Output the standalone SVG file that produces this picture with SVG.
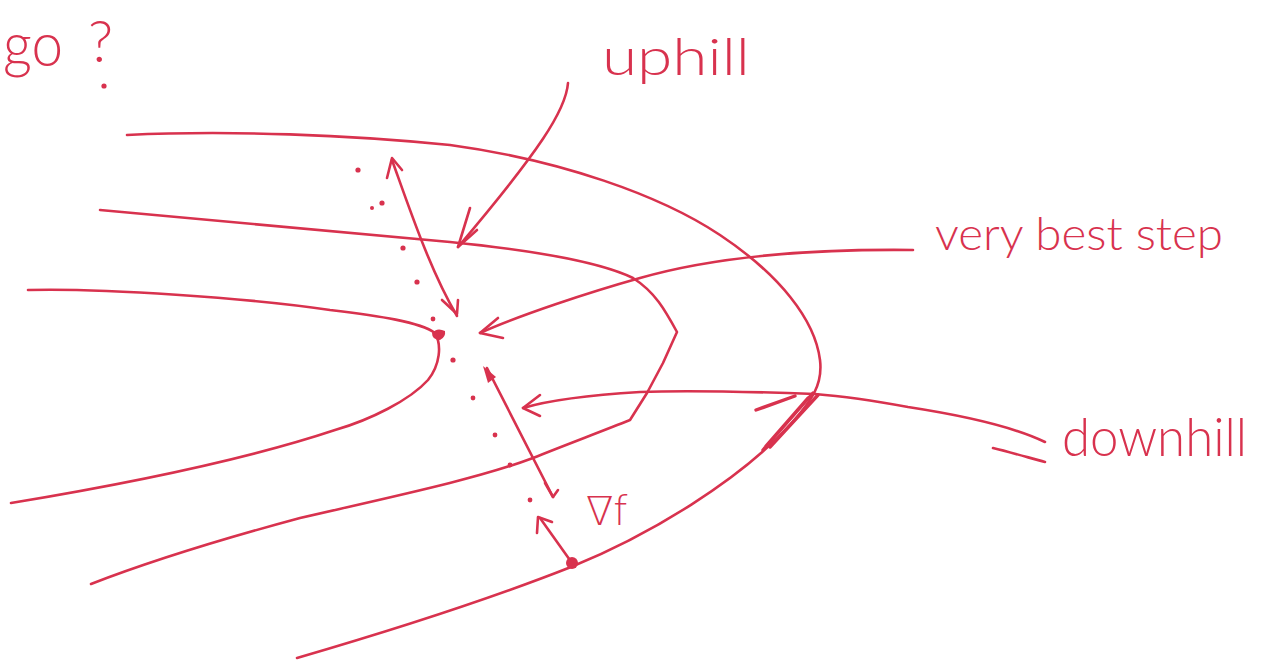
<svg xmlns="http://www.w3.org/2000/svg" width="1267" height="667" viewBox="0 0 1267 667">
<style>
.ink{fill:none;stroke:#d8324e;stroke-width:2.6;stroke-linecap:round;stroke-linejoin:round}
.thick{fill:none;stroke:#d8324e;stroke-width:3.4;stroke-linecap:round;stroke-linejoin:round}
.dot{fill:#d8324e}
.lbl{fill:#d8324e;font-family:"Lato","Open Sans","Liberation Sans",sans-serif;font-weight:300}
.sym{fill:#d8324e;font-family:"DejaVu Sans","Liberation Sans",sans-serif;font-weight:200}
</style>
<rect width="1267" height="667" fill="#ffffff"/>
<g id="contours">
<path id="contour-inner" class="ink" d="M28,290 C100,288 250,298 330,310 C380,316 420,322 435,333 C442,345 440,365 428,380 C410,400 370,420 335,430 C260,455 150,480 11,503"/>
<path id="contour-middle" class="ink" d="M100,210 C180,218 300,228 450,242 C530,250 600,262 633,278 C655,292 665,310 677,332 L663,363 L647,393 L630,420 C600,432 560,447 533,458 C480,478 400,495 300,518 C200,545 140,565 91,584"/>
<path id="contour-outer" class="ink" d="M127,135 C230,130 350,135 450,145 C560,160 660,195 720,235 C780,275 815,320 820,360 C823,385 812,400 790,425 C740,480 650,535 571,567 C500,595 400,628 297,658"/>
<path class="thick" d="M813,393 L763,450 M818,395 L770,447 M808,398 L766,446 M756,410 L795,396"/>
</g>
<g id="steps">
<path class="dot" d="M432,333 Q437,327 445,331 Q446,337 440,340 Q432,340 432,333 Z"/>
<g id="step-uphill">
<path class="ink" d="M392,160 C410,210 430,270 457,316"/>
<path class="ink" d="M387,178 L392,158 L402,170"/>
<path class="ink" d="M442,300 L457,314 L458,300"/>
</g>
<g id="step-down">
<path class="ink" d="M487,368 L553,497"/>
<path class="dot" d="M483,366 L496,377 L488,383 Z"/>
<path class="ink" d="M545,483 L553,497 L558,490"/>
</g>
<g id="step-grad">
<path class="ink" d="M572,563 L540,518"/>
<path class="ink" d="M537,533 L538,517 L552,522"/>
<circle class="dot" cx="572" cy="563" r="6"/>
</g>
<g id="dotted-path">
<circle class="dot" cx="358" cy="170" r="2.6"/>
<circle class="dot" cx="372" cy="208" r="2"/>
<circle class="dot" cx="382" cy="203" r="2.6"/>
<circle class="dot" cx="403" cy="248" r="2.6"/>
<circle class="dot" cx="417" cy="282" r="2.6"/>
<circle class="dot" cx="433" cy="319" r="2.4"/>
<circle class="dot" cx="453" cy="360" r="2.6"/>
<circle class="dot" cx="473" cy="398" r="2.4"/>
<circle class="dot" cx="495" cy="435" r="2.4"/>
<circle class="dot" cx="510" cy="465" r="2.4"/>
<circle class="dot" cx="530" cy="500" r="2.4"/>
</g>
</g>
<g id="connectors">
<path class="ink" d="M568,83 C566,110 540,150 458,247"/>
<path class="ink" d="M470,208 L458,247 L477,230"/>
<path class="ink" d="M913,250 C820,249 720,255 640,278 C590,292 520,315 480,333"/>
<path class="ink" d="M498,318 L480,333 L503,338"/>
<path class="ink" d="M1045,442 C1010,425 960,415 908,407 C870,400 840,396 815,394 C760,392 690,390 640,392 C590,395 550,400 523,408"/>
<path class="ink" d="M540,395 L523,408 L540,416"/>
<path class="ink" d="M993,448 C1010,452 1030,458 1045,462"/>
</g>
<g id="label-go">
<text class="lbl" x="3" y="66" font-size="62" textLength="60" lengthAdjust="spacingAndGlyphs">go</text>
<text class="lbl" x="88" y="62" font-size="58">?</text>
<circle class="dot" cx="104" cy="86" r="2.6"/>
</g>
<g id="label-uphill"><text class="lbl" x="602" y="75" font-size="52" textLength="148" lengthAdjust="spacingAndGlyphs">uphill</text></g>
<g id="label-best"><text class="lbl" x="935" y="250" font-size="46" textLength="288" lengthAdjust="spacingAndGlyphs">very best step</text></g>
<g id="label-downhill"><text class="lbl" x="1062" y="456" font-size="54" textLength="185" lengthAdjust="spacingAndGlyphs">downhill</text></g>
<g id="label-grad"><text class="sym" x="586" y="525" font-size="40">∇f</text></g>
</svg>
